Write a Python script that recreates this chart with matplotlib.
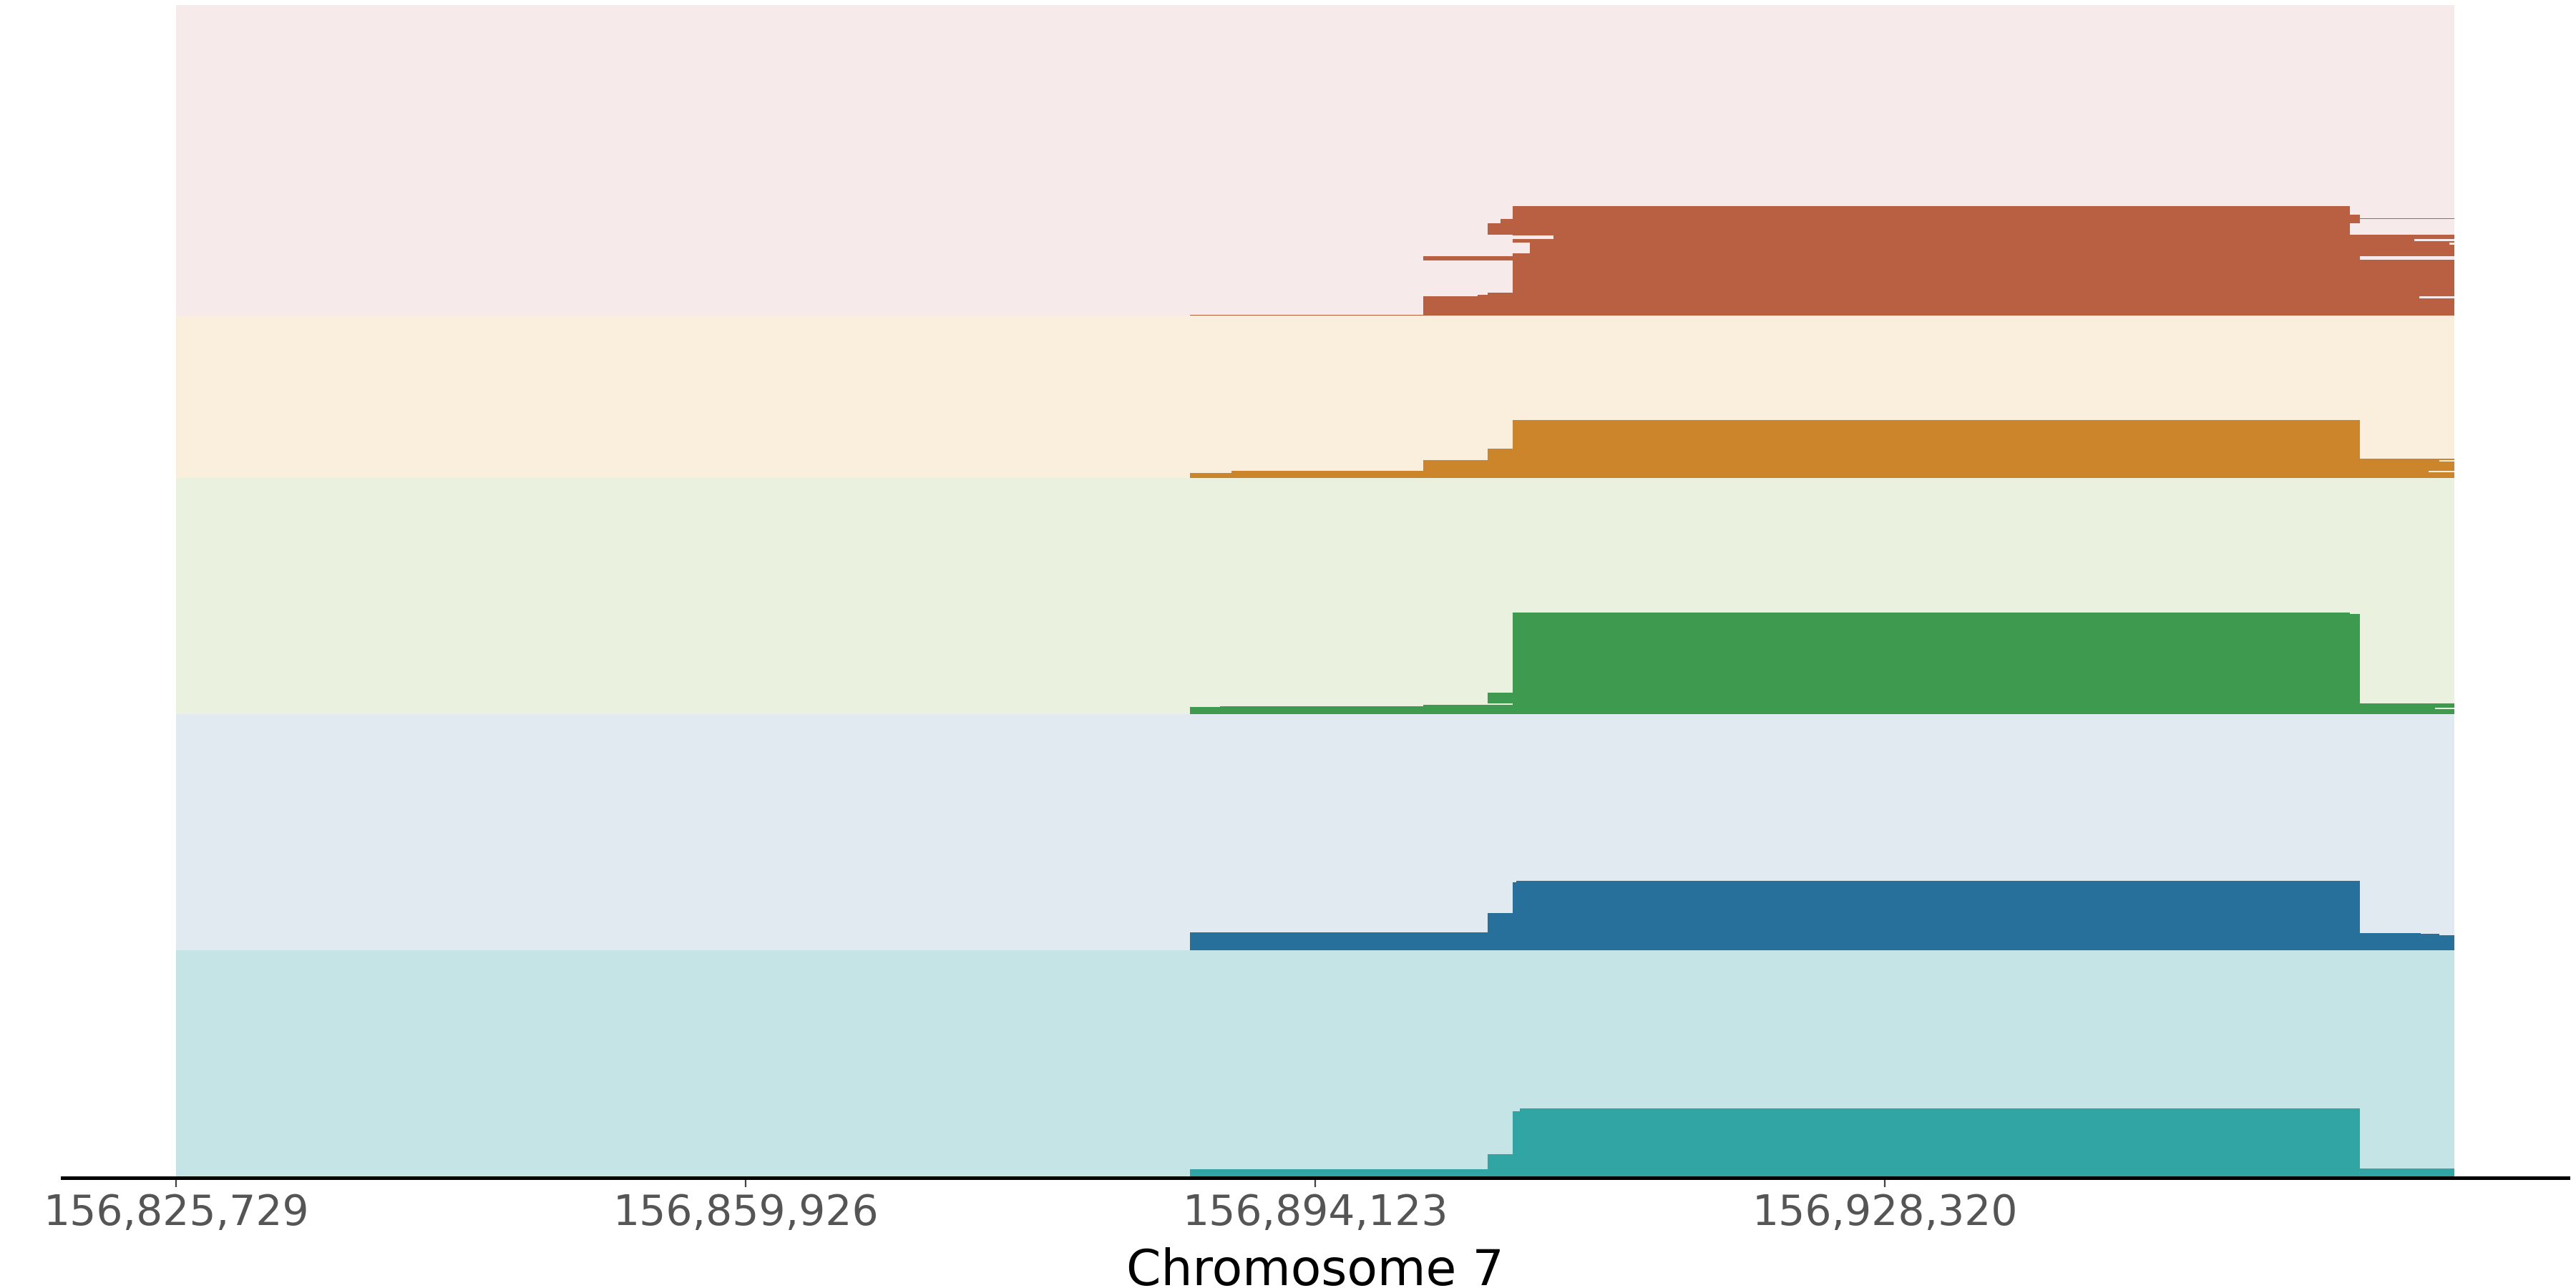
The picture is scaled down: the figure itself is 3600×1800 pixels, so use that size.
import numpy as np
import matplotlib.pyplot as plt

# Region shown on chromosome 7
region_start = 156825729
region_end = 156962517
tick_positions = [156825729, 156859926, 156894123, 156928320]

# Tracks from top to bottom
track_names = ['red', 'orange', 'green', 'blue', 'teal']
track_heights = [434, 227, 330, 330, 318]
fill_colors = ['#B96043', '#CC852B', '#3E9A4F', '#27709B', '#31A5A3']
band_colors = ['#F7EAEA', '#FAEEDD', '#EAF1DF', '#E1EAF1', '#C4E4E5']

# Blocks per track: (start, end, row_low, row_high)
red_blocks = [
    (156886600, 156900600, 0, 1.4),
    (156900600, 156903860, 0, 27.4),
    (156903860, 156904500, 0, 28.7),
    (156904500, 156906000, 0, 31.7),
    (156900600, 156906260, 77.4, 83.4),
    (156904500, 156906000, 113.4, 129.4),
    (156905270, 156906000, 129.4, 135),
    (156906000, 156956260, 0, 86.7),
    (156907030, 156956260, 86.7, 102.4),
    (156906000, 156956260, 102.4, 107.4),
    (156908450, 156956260, 107.4, 112),
    (156906000, 156956260, 112, 153.4),
    (156956260, 156956860, 0, 113.4),
    (156956260, 156956860, 129.4, 141.4),
    (156956860, 156960420, 24, 26.7),
    (156956860, 156962517, 0, 24),
    (156956860, 156962517, 26.7, 78),
    (156956860, 156962517, 83.4, 99),
    (156956860, 156962240, 99, 101.7),
    (156956860, 156962517, 101.7, 104),
    (156956860, 156960120, 104, 107.4),
    (156956860, 156962517, 107.4, 113.4),
    (156956860, 156962517, 135, 136.4),
]

orange_blocks = [
    (156886600, 156889100, 0, 7),
    (156889100, 156900600, 0, 10.3),
    (156900600, 156904500, 0, 25),
    (156904500, 156906000, 0, 41),
    (156906000, 156956860, 0, 81),
    (156956860, 156962517, 0, 8),
    (156956860, 156960990, 8, 9.7),
    (156956860, 156962517, 9.7, 23),
    (156956860, 156961630, 23, 24.7),
    (156956860, 156962517, 24.7, 27),
]

green_blocks = [
    (156886600, 156888400, 0, 10),
    (156888400, 156900600, 0, 11),
    (156900600, 156906000, 0, 13.4),
    (156904500, 156906000, 15.4, 30.4),
    (156906000, 156956860, 0, 140),
    (156906000, 156956260, 140, 142),
    (156956860, 156962517, 0, 7),
    (156956860, 156961370, 7, 9),
    (156956860, 156962517, 9, 15),
]

blue_blocks = [
    (156886600, 156904500, 0, 25),
    (156904500, 156906000, 0, 52),
    (156906000, 156956860, 0, 95),
    (156906200, 156956860, 95, 96.5),
    (156956860, 156960510, 0, 24),
    (156960510, 156961630, 0, 22.5),
    (156961630, 156962517, 0, 21),
]

teal_blocks = [
    (156886600, 156904500, 0, 12.3),
    (156904500, 156906000, 0, 33.3),
    (156906000, 156956860, 0, 92.7),
    (156906430, 156956860, 92.7, 97),
    (156956860, 156962517, 0, 13),
]

all_blocks = [red_blocks, orange_blocks, green_blocks, blue_blocks, teal_blocks]

fig = plt.figure(figsize=(18, 9), dpi=200)
ax = fig.add_axes([0.0242, 0.0856, 0.9727, 0.9105])

# stack tracks from the bottom up
bases = np.concatenate([[0], np.cumsum(track_heights[::-1])])[:-1][::-1]

for base, height, bg, fc, blocks in zip(bases, track_heights, band_colors, fill_colors, all_blocks):
    ax.bar(region_start, height, width=region_end - region_start, bottom=base,
           align='edge', color=bg, linewidth=0)
    for start, end, lo, hi in blocks:
        ax.bar(start, hi - lo, width=end - start, bottom=base + lo,
               align='edge', color=fc, linewidth=0)

ax.set_ylim(0, sum(track_heights))
ax.margins(x=0.05)

ax.set_xticks(tick_positions)
ax.set_xticklabels([f'{t:,}' for t in tick_positions], fontsize=21, color='#555555')
ax.tick_params(axis='x', length=4.5, width=0.8, color='#444444', pad=3)
ax.set_yticks([])
ax.set_xlabel('Chromosome 7', fontsize=25, labelpad=7)

for side in ['top', 'right', 'left']:
    ax.spines[side].set_visible(False)
ax.spines['bottom'].set_linewidth(1.8)
ax.spines['bottom'].set_color('black')

fig.savefig('out.png', dpi=200)
